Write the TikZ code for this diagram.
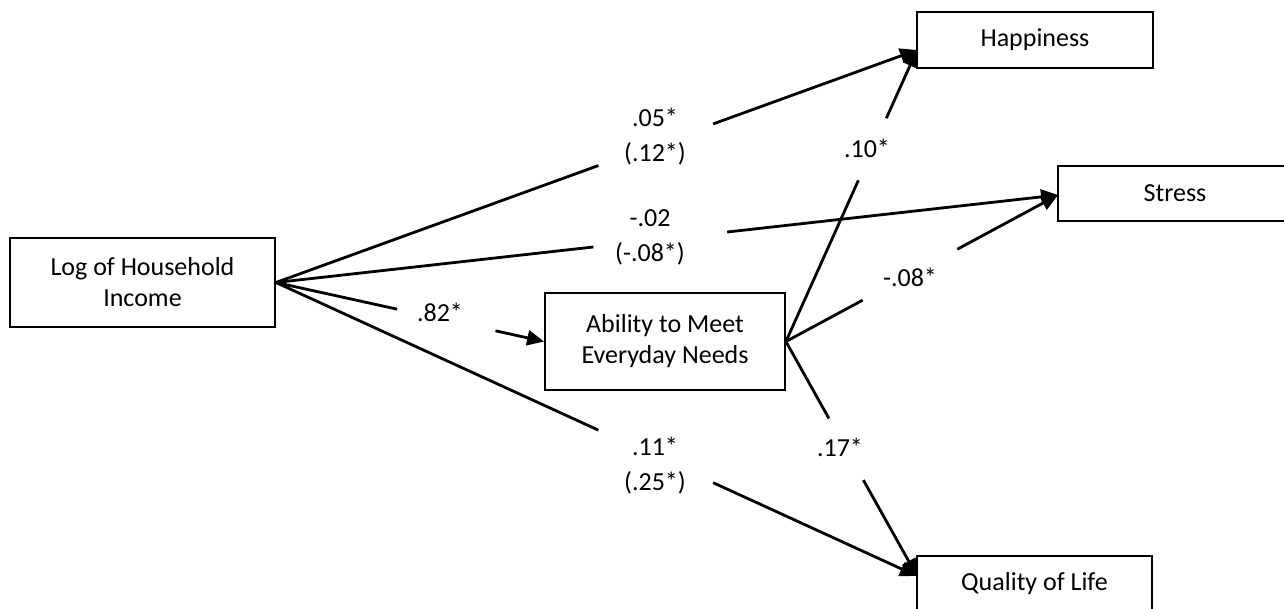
\documentclass[tikz,border=0pt]{standalone}
\usepackage{fontspec}
\setmainfont{Carlito}
\usetikzlibrary{arrows.meta,calc}
\begin{document}
\begin{tikzpicture}[x=1pt,y=-1pt,
  box/.style={draw, line width=1.8pt, align=center, inner sep=0pt, font=\fontsize{26}{31}\selectfont},
  lab/.style={align=center, inner sep=0pt, font=\fontsize{26}{35}\selectfont},
  conn/.style={line width=2.8pt},
  arr/.style={line width=2.8pt, -{Triangle[length=17pt,width=15pt]}}]
\clip (0,0) rectangle (1284,608);
% boxes
\node[box, minimum width=265pt, minimum height=89pt] (log) at (142.5,282.5) {Log of Household\\Income};
\node[box, minimum width=240pt, minimum height=97pt] (abl) at (665,341.5) {Ability to Meet\\Everyday Needs};
\node[box, minimum width=236pt, minimum height=56pt] (hap) at (1035,40) {Happiness};
\node[box, minimum width=234pt, minimum height=55pt] (str) at (1175,193.5) {Stress};
\node[box, minimum width=235pt, minimum height=56pt] (qol) at (1034.5,584) {Quality of Life};
% targets
\coordinate (hapin) at (917,50);
\coordinate (strin) at (1058,195);
\coordinate (qolin) at (917,576);
% labels
\node[lab] (l1) at (655,137) {.05*\\(.12*)};
\node[lab] (l2) at (650,237) {-.02\\(-.08*)};
\node[lab] (l3) at (440,312) {.82*};
\node[lab] (l4) at (655,466) {.11*\\(.25*)};
\node[lab] (l5) at (867,148) {.10*};
\node[lab] (l6) at (910,277) {-.08*};
\node[lab] (l7) at (840,447) {.17*};
% Log -> Happiness
\draw[conn] (log.east) -- ($(log.east)!0.503!(hapin)$);
\draw[arr] ($(log.east)!0.682!(hapin)$) -- (hapin);
% Log -> Stress
\draw[conn] (log.east) -- ($(log.east)!0.406!(strin)$);
\draw[arr] ($(log.east)!0.577!(strin)$) -- (strin);
% Log -> Ability
\draw[conn] (log.east) -- ($(log.east)!0.452!(abl.west)$);
\draw[arr] ($(log.east)!0.819!(abl.west)$) -- (abl.west);
% Log -> Quality
\draw[conn] (log.east) -- ($(log.east)!0.503!(qolin)$);
\draw[arr] ($(log.east)!0.682!(qolin)$) -- (qolin);
% Ability -> Happiness
\draw[conn] (abl.east) -- ($(abl.east)!0.553!(hapin)$);
\draw[arr] ($(abl.east)!0.766!(hapin)$) -- (hapin);
% Ability -> Stress
\draw[conn] (abl.east) -- ($(abl.east)!0.282!(strin)$);
\draw[arr] ($(abl.east)!0.630!(strin)$) -- (strin);
% Ability -> Quality
\draw[conn] (abl.east) -- ($(abl.east)!0.328!(qolin)$);
\draw[arr] ($(abl.east)!0.591!(qolin)$) -- (qolin);
\end{tikzpicture}
\end{document}
